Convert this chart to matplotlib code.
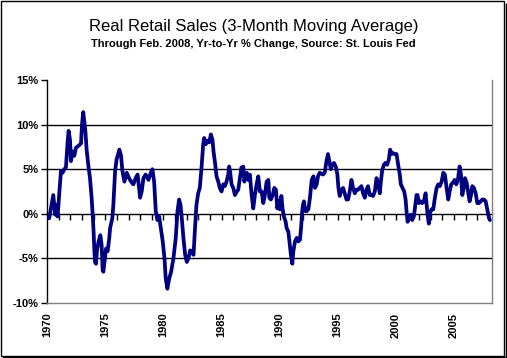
import matplotlib
matplotlib.use("Agg")
import matplotlib.pyplot as plt
from matplotlib.patches import Rectangle

# Decimal years (offset from 1970) and year-over-year % change
years_offset = [
    0.03, 0.17, 0.52, 0.69, 0.80, 0.89, 1.03, 1.18, 1.32, 1.47, 1.61, 1.75, 1.84, 1.96,
    2.04, 2.18, 2.33, 2.47, 2.76, 2.91, 2.99, 3.10, 3.19, 3.28, 3.39, 3.53, 3.68, 3.82,
    3.91, 3.99, 4.05, 4.11, 4.20, 4.28, 4.42, 4.57, 4.68, 4.77, 4.83, 5.06, 5.20, 5.34,
    5.41, 5.60, 5.69, 5.84, 5.97, 6.21, 6.35, 6.47, 6.64, 6.84, 7.04, 7.22, 7.41, 7.61,
    7.78, 7.99, 8.13, 8.28, 8.47, 8.71, 8.91, 9.05, 9.20, 9.34, 9.48, 9.63, 9.77, 9.94,
    10.09, 10.20, 10.34, 10.49, 10.66, 10.86, 11.06, 11.21, 11.35, 11.47, 11.58, 11.72,
    11.87, 12.01, 12.16, 12.30, 12.44, 12.59, 12.70, 12.84, 12.99, 13.13, 13.28, 13.42,
    13.51, 13.65, 13.79, 13.94, 14.08, 14.22, 14.31, 14.46, 14.57, 14.72, 14.85, 15.00,
    15.15, 15.28, 15.43, 15.58, 15.66, 15.75, 15.86, 16.01, 16.15, 16.32, 16.44, 16.58,
    16.72, 16.81, 16.87, 16.96, 17.07, 17.18, 17.30, 17.44, 17.59, 17.73, 17.87, 18.02,
    18.16, 18.30, 18.45, 18.59, 18.73, 18.88, 19.03, 19.11, 19.25, 19.40, 19.54, 19.68,
    19.80, 19.91, 20.03, 20.15, 20.26, 20.37, 20.52, 20.60, 20.75, 20.84, 20.97, 21.09,
    21.18, 21.32, 21.47, 21.61, 21.75, 21.85, 21.94, 22.01, 22.09, 22.21, 22.33, 22.47,
    22.61, 22.76, 22.91, 23.04, 23.19, 23.30, 23.45, 23.59, 23.73, 23.88, 24.03, 24.16,
    24.28, 24.40, 24.54, 24.68, 24.83, 24.97, 25.06, 25.17, 25.32, 25.46, 25.60, 25.75,
    25.89, 26.03, 26.18, 26.32, 26.47, 26.61, 26.75, 26.90, 27.04, 27.18, 27.33, 27.47,
    27.61, 27.76, 27.91, 28.04, 28.19, 28.34, 28.47, 28.62, 28.71, 28.82, 28.97, 29.11,
    29.25, 29.40, 29.51, 29.63, 29.77, 29.91, 30.06, 30.20, 30.34, 30.43, 30.58, 30.72,
    30.84, 30.92, 31.01, 31.12, 31.27, 31.41, 31.55, 31.64, 31.78, 31.87, 31.98, 32.13,
    32.27, 32.41, 32.56, 32.65, 32.73, 32.84, 32.93, 33.08, 33.22, 33.36, 33.51, 33.65,
    33.79, 33.94, 34.08, 34.22, 34.37, 34.51, 34.63, 34.77, 34.91, 35.06, 35.20, 35.34,
    35.49, 35.60, 35.72, 35.84, 35.95, 36.09, 36.21, 36.35, 36.47, 36.58, 36.72, 36.87,
    37.01, 37.16, 37.30, 37.44, 37.59, 37.73, 37.87, 38.02, 38.10,
]
pct_change = [
    -0.5, -0.5, 2.1, -0.1, 1.0, -0.3, 2.1, 4.8, 4.6, 5.0, 5.2, 8.0, 9.3, 8.3,
    5.9, 7.0, 6.5, 7.4, 7.7, 7.9, 10.0, 11.4, 10.4, 9.3, 7.2, 5.5, 4.0, 1.8,
    -0.1, -2.0, -3.9, -5.4, -5.6, -4.1, -3.1, -2.4, -3.5, -6.3, -6.5, -3.9, -4.2, -2.7,
    -1.6, -0.5, 1.0, 4.8, 6.1, 7.2, 6.5, 4.8, 3.6, 4.6, 4.0, 3.6, 3.3, 4.0,
    4.4, 1.8, 2.5, 4.0, 4.4, 3.8, 4.6, 5.0, 3.6, 0.3, -0.7, -0.3, -1.6, -3.1,
    -5.0, -7.3, -8.4, -7.3, -6.5, -5.0, -2.7, 0.3, 1.6, 1.0, -0.5, -2.7,
    -4.6, -5.4, -5.0, -4.1, -4.2, -4.6, -2.0, 1.0, 2.3, 2.9, 5.2, 7.8,
    8.5, 7.8, 8.2, 8.0, 8.9, 8.3, 7.0, 5.5, 4.2, 3.6, 2.9, 2.5,
    3.3, 3.1, 3.6, 4.4, 5.3, 4.6, 3.3, 2.9, 2.1, 2.5, 2.7, 4.0,
    5.2, 4.4, 5.3, 3.6, 4.2, 4.6, 3.8, 4.4, 2.1, 0.6, 2.1, 3.3,
    4.2, 2.5, 2.5, 1.2, 2.1, 3.6, 3.8, 1.8, 1.6, 2.1, 2.9, 2.7,
    0.6, 1.4, 0.5, 2.0, 0.5, -0.3, -0.9, -1.6, -2.0, -3.1, -4.6, -5.6,
    -4.2, -3.1, -2.7, -3.1, -2.9, -1.5, 0.3, 1.0, 1.4, 0.3, 0.3, 0.5,
    1.8, 3.8, 4.2, 2.9, 3.3, 4.2, 4.6, 4.5, 4.4, 4.6, 5.9, 6.7,
    5.9, 5.0, 5.5, 5.7, 5.3, 4.4, 2.9, 2.0, 2.7, 2.9, 2.3, 1.6,
    1.6, 2.5, 3.8, 2.9, 2.3, 2.7, 2.7, 2.9, 3.1, 2.3, 1.8, 2.7,
    3.1, 2.1, 2.1, 2.0, 2.5, 4.0, 3.3, 2.3, 3.6, 4.8, 5.5, 5.7,
    5.5, 6.1, 7.2, 6.7, 6.8, 6.7, 6.7, 5.5, 4.4, 3.3, 2.9, 2.5,
    1.6, 0.3, -0.9, -0.5, -0.1, -0.7, -0.3, 0.6, 2.1, 2.1, 1.2, 1.4,
    1.2, 1.4, 2.3, 1.0, -0.1, -1.1, 0.1, 0.5, 0.5, 1.8, 2.9, 3.3,
    3.1, 3.6, 4.6, 4.4, 2.9, 1.6, 2.5, 3.3, 3.5, 3.8, 3.3, 3.8,
    5.3, 4.4, 2.1, 2.9, 4.0, 3.5, 2.5, 1.4, 2.1, 3.1, 2.9, 2.3,
    1.2, 1.2, 1.4, 1.6, 1.6, 1.4, 0.5, -0.5, -0.7,
]
start_year = 1970
label_years = [1970, 1975, 1980, 1985, 1990, 1995, 2000, 2005]
y_ticks = [-10, -5, 0, 5, 10, 15]
y_ticklabels = ["-10%", "-5%", "0%", "5%", "10%", "15%"]

title = "Real Retail Sales (3-Month Moving Average)"
subtitle = "Through Feb. 2008, Yr-to-Yr % Change, Source: St. Louis Fed"

dates = [start_year + t for t in years_offset]

W, H = 507, 358
fig = plt.figure(figsize=(W / 100, H / 100), dpi=100)
fig.patch.set_facecolor("white")

left, right, top, bottom = 47, 492, 80, 303
ax = fig.add_axes([left / W, 1 - bottom / H, (right - left) / W, (bottom - top) / H])
ax.set_facecolor("white")

x_end = start_year + (right - 48) / 11.6
ax.set_xlim(start_year - 0.02, x_end)
ax.set_ylim(-10, 15)

# gridlines
for g in [5, 10, -5]:
    ax.axhline(g, color="black", lw=1.0, zorder=1)

ax.plot(dates, pct_change, color="#000080", lw=2.7, solid_joinstyle="round",
        solid_capstyle="round", zorder=3)

# spines
for s in ["top", "right"]:
    ax.spines[s].set_visible(False)
ax.spines["left"].set_color("black")
ax.spines["left"].set_linewidth(1.0)
ax.spines["bottom"].set_position(("data", 0))
ax.spines["bottom"].set_color("black")
ax.spines["bottom"].set_linewidth(1.0)

ax.set_xticks(list(range(1971, 2009)))
ax.tick_params(axis="x", direction="out", length=4, width=1, labelbottom=False, color="black")
ax.set_yticks(y_ticks)
ax.set_yticklabels(y_ticklabels, fontsize=8, fontweight="bold", family="Liberation Sans")
ax.tick_params(axis="y", direction="out", length=4, width=1, pad=2, color="black")

# bottom labels and plot-area border via a twin axis
ax2 = ax.twiny()
ax2.set_xlim(ax.get_xlim())
ax2.xaxis.set_ticks_position("bottom")
ax2.xaxis.set_label_position("bottom")
ax2.set_xticks(label_years)
ax2.set_xticklabels([str(y) for y in label_years], rotation=90, fontsize=8,
                    fontweight="bold", family="Liberation Sans")
ax2.tick_params(axis="x", length=0, pad=7)
ax2.spines["top"].set_visible(False)
ax2.spines["left"].set_visible(False)
ax2.spines["right"].set_color("#808080")
ax2.spines["bottom"].set_color("#808080")
ax2.spines["right"].set_linewidth(1.0)
ax2.spines["bottom"].set_linewidth(1.0)

fig.text(0.5, 1 - 27 / H, title, ha="center", va="center", fontsize=12,
         family="Liberation Sans")
fig.text(0.5, 1 - 44 / H, subtitle, ha="center", va="center", fontsize=8,
         fontweight="bold", family="Liberation Sans")

# chart-area frame with a slight shadow on the right and bottom
fig.patches.append(Rectangle((0.5 / W, 2.5 / H), (W - 3.5) / W, (H - 3) / H,
                             transform=fig.transFigure, fill=False,
                             edgecolor="black", lw=1.0))
fig.patches.append(Rectangle((2.5 / W, 0.5 / H), (W - 3.5) / W, 0.001,
                             transform=fig.transFigure, fill=False,
                             edgecolor="black", lw=1.0))
fig.patches.append(Rectangle(((W - 1.5) / W, 0.5 / H), 0.0005, (H - 3) / H,
                             transform=fig.transFigure, fill=False,
                             edgecolor="black", lw=1.0))

fig.savefig("out.png", dpi=100, facecolor="white")
